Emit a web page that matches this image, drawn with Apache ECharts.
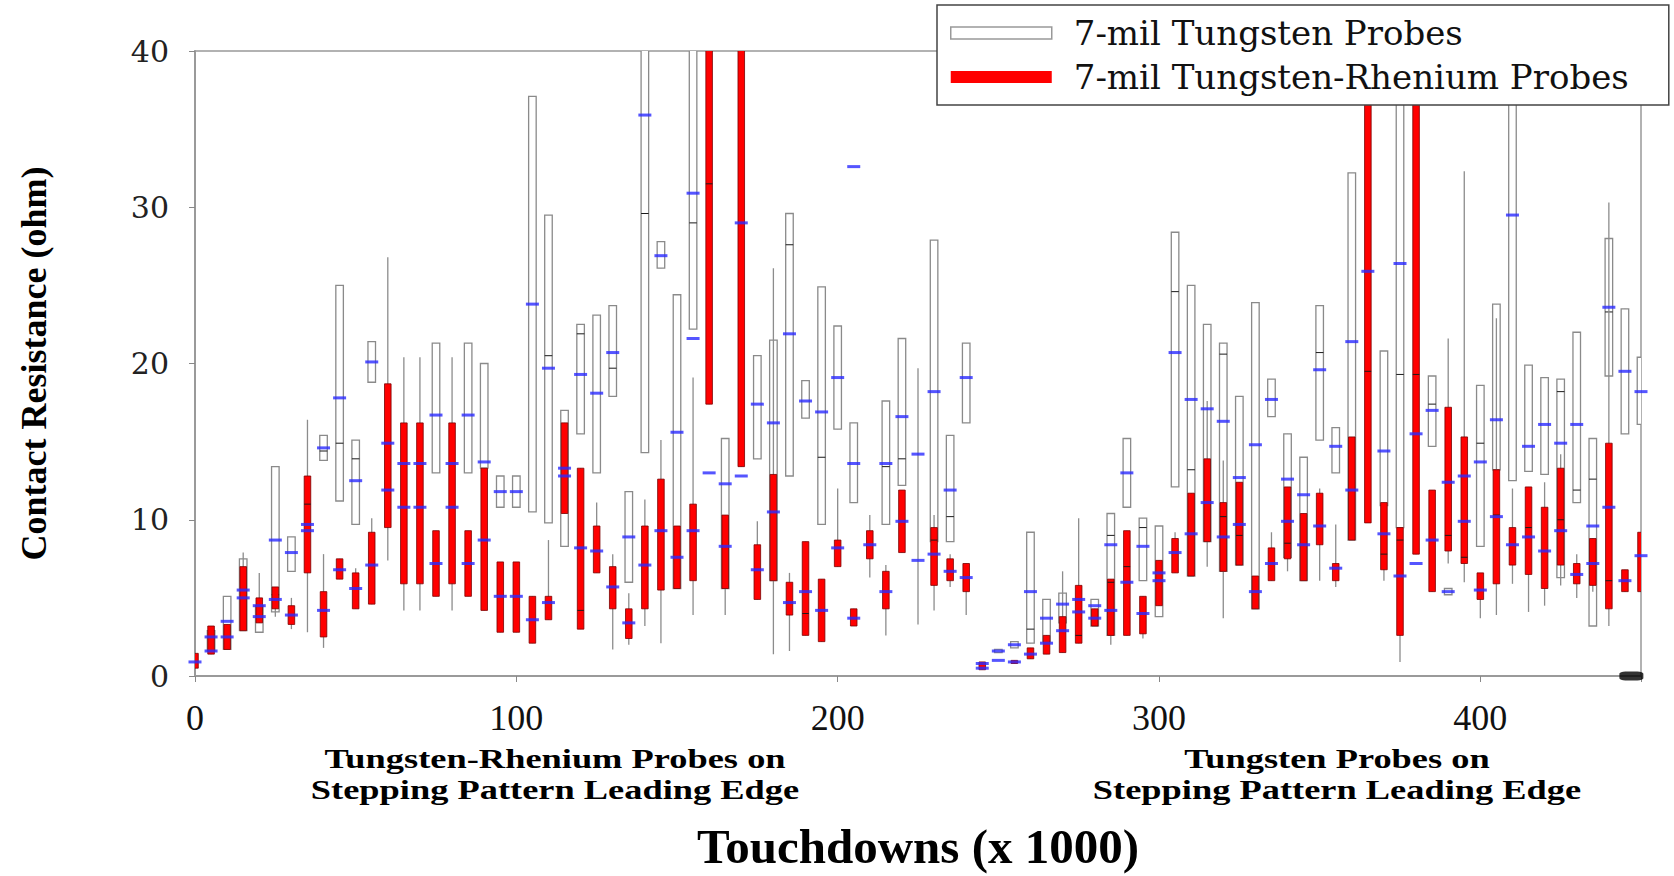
<!DOCTYPE html>
<html>
<head>
<meta charset="utf-8">
<script src="https://cdn.jsdelivr.net/npm/echarts@6/dist/echarts.min.js"></script>
<style>
html, body { margin: 0; padding: 0; background: #fff; }
#chart { width: 1674px; height: 876px; }
</style>
</head>
<body>
<div id="chart"></div>
<script>
// box rows: [touchdowns, whiskerLow, q1, median, q3, whiskerHigh]  (median null = not drawn)
var tungstenBoxes = [
    [5, 1.6, 1.6, null, 2.9, 2.9], [10, 1.7, 1.7, null, 5.1, 5.1], [15, 2.9, 2.9, null, 7.5, 7.5],
    [20, 2.8, 2.8, null, 4.5, 4.5], [25, 4.1, 4.1, 5.2, 13.4, 13.4], [30, 6.7, 6.7, null, 8.9, 8.9],
    [40, 13.8, 13.8, 14.4, 15.4, 15.4], [45, 11.2, 11.2, 14.9, 25.0, 25.0], [50, 9.7, 9.7, 13.9, 15.1, 15.1],
    [55, 18.8, 18.8, null, 21.4, 21.4], [75, 13.0, 13.0, null, 21.3, 21.3], [85, 13.0, 13.0, null, 21.3, 21.3],
    [90, 13.3, 13.3, null, 20.0, 20.0], [95, 10.8, 10.8, null, 12.8, 12.8], [100, 10.8, 10.8, null, 12.8, 12.8],
    [105, 10.5, 10.5, null, 37.1, 37.1], [110, 9.8, 9.8, 20.5, 29.5, 29.5], [115, 8.3, 8.3, null, 17.0, 17.0],
    [120, 15.5, 15.5, 21.9, 22.5, 22.5], [125, 13.0, 13.0, null, 23.1, 23.1], [130, 17.9, 17.9, 19.7, 23.7, 23.7],
    [135, 6.0, 6.0, null, 11.8, 11.8], [140, 14.3, 14.3, 29.6, 45, 45], [145, 26.1, 26.1, null, 27.8, 27.8],
    [150, 5.6, 5.6, null, 24.4, 24.4], [155, 22.2, 22.2, 29.0, 45, 45], [165, 5.6, 5.6, null, 15.2, 15.2],
    [175, 13.9, 13.9, null, 20.5, 20.5], [180, 6.1, 6.1, null, 21.5, 21.5], [185, 12.8, 12.8, 27.6, 29.6, 29.6],
    [190, 16.5, 16.5, null, 18.9, 18.9], [195, 9.7, 9.7, 14.0, 24.9, 24.9], [200, 15.8, 15.8, null, 22.4, 22.4],
    [205, 11.1, 11.1, null, 16.2, 16.2], [215, 9.7, 9.7, 13.4, 17.6, 17.6], [220, 12.2, 12.2, 13.9, 21.6, 21.6],
    [225, 3.3, 7.4, null, 7.4, 19.7], [230, 8.6, 8.6, null, 27.9, 27.9], [235, 8.6, 8.6, 10.2, 15.4, 15.4],
    [240, 16.2, 16.2, null, 21.3, 21.3], [250, 1.5, 1.5, null, 1.7, 1.7], [255, 1.8, 1.8, null, 2.2, 2.2],
    [260, 2.1, 2.1, 3.0, 9.2, 9.2], [265, 2.2, 2.2, null, 4.9, 4.9], [270, 3.4, 3.4, null, 5.3, 5.3],
    [280, 3.2, 3.2, null, 4.9, 4.9], [285, 2.6, 2.6, 9.0, 10.4, 10.4], [290, 10.8, 10.8, null, 15.2, 15.2],
    [295, 6.1, 6.1, 9.5, 10.1, 10.1], [300, 3.8, 3.8, null, 9.6, 9.6], [305, 12.1, 12.1, 24.6, 28.4, 28.4],
    [310, 6.4, 6.4, 13.2, 25.0, 25.0], [315, 8.6, 8.6, null, 22.5, 22.5], [320, 6.7, 6.7, 20.6, 21.3, 21.3],
    [325, 7.1, 7.1, null, 17.9, 17.9], [330, 4.3, 4.3, null, 23.9, 23.9], [335, 16.6, 16.6, null, 19.0, 19.0],
    [340, 7.6, 7.6, null, 15.5, 15.5], [345, 6.1, 6.1, null, 14.0, 14.0], [350, 15.1, 15.1, 20.7, 23.7, 23.7],
    [355, 13.0, 13.0, null, 15.9, 15.9], [360, 8.7, 8.7, null, 32.2, 32.2], [370, 10.9, 10.9, null, 20.8, 20.8],
    [375, 9.5, 9.5, 19.3, 45, 45], [385, 14.7, 14.7, 17.4, 19.2, 19.2], [390, 5.2, 5.2, null, 5.6, 5.6],
    [400, 8.3, 8.3, 14.9, 18.6, 18.6], [405, 13.2, 13.2, null, 23.8, 23.8], [410, 12.5, 12.5, null, 45, 45],
    [415, 13.1, 13.1, null, 19.9, 19.9], [420, 12.9, 12.9, null, 19.1, 19.1], [425, 6.3, 6.3, 18.2, 19.0, 19.0],
    [430, 11.1, 11.1, 11.9, 22.0, 22.0], [435, 3.2, 3.2, 12.6, 15.2, 15.2], [440, 19.2, 19.2, 23.3, 28.0, 28.0],
    [445, 15.5, 15.5, null, 23.5, 23.5], [450, 16.1, 16.1, null, 20.4, 20.4]
];

var rheniumBoxes = [
    [0, 0.5, 0.5, null, 1.45, 1.45], [5, 1.4, 1.4, null, 3.2, 3.2], [10, 1.7, 1.7, null, 3.3, 3.3],
    [15, 2.9, 2.9, null, 7.0, 7.9], [20, 3.4, 3.4, null, 5.0, 6.6], [25, 3.8, 4.3, null, 5.7, 5.7],
    [30, 3.0, 3.3, null, 4.5, 5.0], [35, 2.8, 6.6, 11.0, 12.8, 16.4], [40, 1.8, 2.5, null, 5.4, 7.8],
    [45, 6.2, 6.2, null, 7.5, 7.5], [50, 4.3, 4.3, null, 6.6, 6.9], [55, 4.6, 4.6, null, 9.2, 10.1],
    [60, 7.4, 9.5, null, 18.7, 26.8], [65, 4.2, 5.9, null, 16.2, 20.4], [70, 4.2, 5.9, null, 16.2, 20.4],
    [75, 5.1, 5.1, null, 9.3, 9.3], [80, 4.2, 5.9, null, 16.2, 20.4], [85, 5.1, 5.1, null, 9.3, 9.3],
    [90, 4.2, 4.2, 8.7, 13.3, 13.3], [95, 2.8, 2.8, null, 7.3, 7.3], [100, 2.8, 2.8, null, 7.3, 7.3],
    [105, 2.1, 2.1, null, 5.1, 5.1], [110, 3.6, 3.6, null, 5.1, 8.7], [115, 10.4, 10.4, null, 16.2, 16.2],
    [120, 3.0, 3.0, 4.2, 13.3, 13.3], [125, 6.6, 6.6, null, 9.6, 11.1], [130, 1.7, 4.3, null, 7.0, 7.8],
    [135, 2.0, 2.4, null, 4.3, 5.3], [140, 3.2, 4.3, null, 9.6, 11.3], [145, 2.1, 5.5, null, 12.6, 15.1],
    [150, 5.6, 5.6, null, 9.6, 9.6], [155, 3.9, 6.1, null, 11.0, 19.1], [160, 17.4, 17.4, 31.5, 45, 45],
    [165, 3.9, 5.6, null, 10.3, 10.3], [170, 13.4, 13.4, null, 45, 45], [175, 4.9, 4.9, null, 8.4, 9.9],
    [180, 1.4, 6.1, null, 12.9, 26.1], [185, 1.6, 3.9, null, 6.0, 6.6], [190, 2.6, 2.6, 4.0, 8.6, 8.6],
    [195, 2.2, 2.2, null, 6.2, 6.2], [200, 7.0, 7.0, null, 8.7, 12.0], [205, 3.2, 3.2, null, 4.3, 4.3],
    [210, 6.3, 7.5, null, 9.3, 10.3], [215, 2.6, 4.3, null, 6.7, 7.1], [220, 7.9, 7.9, null, 11.9, 11.9],
    [230, 4.2, 5.8, 8.7, 9.5, 10.3], [235, 5.7, 6.1, null, 7.5, 7.8], [240, 3.9, 5.4, null, 7.2, 7.2],
    [245, 0.4, 0.4, null, 0.9, 0.9], [255, 0.8, 0.8, null, 1.0, 1.0], [260, 1.1, 1.1, null, 1.8, 1.8],
    [265, 1.4, 1.4, null, 2.6, 2.6], [270, 1.5, 1.5, null, 3.8, 6.7], [275, 2.1, 2.1, 2.6, 5.8, 10.1],
    [280, 3.2, 3.2, null, 4.3, 4.3], [285, 2.0, 2.6, 6.0, 6.2, 6.2], [290, 2.6, 2.6, 7.0, 9.3, 9.3],
    [295, 2.4, 2.7, null, 5.1, 5.1], [300, 4.5, 4.5, null, 7.4, 7.4], [305, 6.6, 6.6, null, 8.8, 9.2],
    [310, 6.4, 6.4, null, 11.7, 11.7], [315, 7.0, 8.6, null, 13.9, 17.6], [320, 3.7, 6.7, 10.2, 11.1, 13.8],
    [325, 7.1, 7.1, 9.0, 12.4, 12.4], [330, 4.3, 4.3, null, 6.4, 6.4], [335, 6.1, 6.1, null, 8.2, 9.2],
    [340, 6.7, 7.5, 8.5, 12.1, 12.1], [345, 6.1, 6.1, null, 10.4, 10.4], [350, 6.1, 8.4, null, 11.7, 12.0],
    [355, 5.7, 6.1, null, 7.2, 9.7], [360, 8.7, 8.7, null, 15.3, 15.3], [365, 9.8, 9.8, 19.5, 45, 45],
    [370, 6.1, 6.8, 7.8, 11.1, 11.1], [375, 0.9, 2.6, 8.7, 9.5, 9.5], [380, 7.8, 7.8, 19.3, 45, 45],
    [385, 5.4, 5.4, null, 11.9, 11.9], [390, 7.2, 8.0, 9.0, 17.2, 21.6], [395, 6.0, 7.2, 7.6, 15.3, 32.3],
    [400, 3.7, 4.9, null, 6.6, 6.6], [405, 3.9, 5.9, 10.3, 13.2, 22.9], [410, 5.9, 7.1, null, 9.5, 12.0],
    [415, 4.1, 6.5, 9.5, 12.1, 12.1], [420, 4.5, 5.6, null, 10.8, 12.4], [425, 5.8, 7.1, 10.0, 13.3, 14.2],
    [430, 5.0, 5.9, null, 7.2, 7.8], [435, 5.4, 5.8, null, 8.8, 8.8], [440, 3.2, 4.3, 6.1, 14.9, 30.3],
    [445, 5.4, 5.4, null, 6.8, 6.8], [450, 5.4, 5.4, null, 9.2, 9.2]
];

// blue mean marks: [touchdowns, value]
var meanMarks = [
    [0, 0.9], [5, 2.5], [5, 1.6], [10, 3.5], [10, 2.5], [15, 5.5], [15, 5.0], [20, 4.5], [20, 3.8],
    [25, 8.7], [25, 4.9], [30, 7.9], [30, 3.9], [35, 9.7], [35, 9.3], [40, 14.6], [40, 4.2],
    [45, 17.8], [45, 6.8], [50, 12.5], [50, 5.6], [55, 20.1], [55, 7.1], [60, 14.9], [60, 11.9],
    [65, 13.6], [65, 10.8], [70, 13.6], [70, 10.8], [75, 16.7], [75, 7.2], [80, 13.6], [80, 10.8],
    [85, 16.7], [85, 7.2], [90, 13.7], [90, 8.7], [95, 11.8], [95, 5.1], [100, 11.8], [100, 5.1],
    [105, 23.8], [105, 3.6], [110, 19.7], [110, 4.7], [115, 13.3], [115, 12.8], [120, 19.3], [120, 8.2],
    [125, 18.1], [125, 8.0], [130, 20.7], [130, 5.7], [135, 8.9], [135, 3.4], [140, 35.9], [140, 7.1],
    [145, 26.9], [145, 9.3], [150, 15.6], [150, 7.6], [155, 30.9], [155, 21.6], [155, 9.3], [160, 13.0],
    [165, 12.3], [165, 8.3], [170, 29.0], [170, 12.8], [175, 17.4], [175, 6.8], [180, 16.2], [180, 10.5],
    [185, 21.9], [185, 4.7], [190, 17.6], [190, 5.4], [195, 16.9], [195, 4.2], [200, 19.1], [200, 8.2],
    [205, 32.6], [205, 13.6], [205, 3.7], [210, 8.4], [215, 13.6], [215, 5.4], [220, 16.6], [220, 9.9],
    [225, 14.2], [225, 7.4], [230, 18.2], [230, 7.8], [235, 11.9], [235, 6.7], [240, 19.1], [240, 6.3],
    [245, 0.8], [245, 0.5], [250, 1.6], [250, 1.0], [255, 2.0], [255, 0.9], [260, 5.4], [260, 1.4],
    [265, 3.7], [265, 2.1], [270, 4.6], [270, 2.9], [275, 4.9], [275, 4.1], [280, 4.5], [280, 3.7],
    [285, 8.4], [285, 4.2], [290, 13.0], [290, 6.0], [295, 8.3], [295, 4.0], [300, 6.6], [300, 6.1],
    [305, 20.7], [305, 7.9], [310, 17.7], [310, 9.1], [315, 17.1], [315, 11.1], [320, 16.3], [320, 8.9],
    [325, 12.7], [325, 9.7], [330, 14.8], [330, 5.4], [335, 17.7], [335, 7.2], [340, 12.6], [340, 9.9],
    [345, 11.6], [345, 8.4], [350, 19.6], [350, 9.6], [355, 14.7], [355, 6.9], [360, 21.4], [360, 11.9],
    [365, 25.9], [370, 14.4], [370, 9.1], [375, 26.4], [375, 6.4], [380, 15.5], [380, 7.2],
    [385, 17.0], [385, 8.7], [390, 5.4], [390, 12.4], [395, 12.8], [395, 9.9], [400, 13.7], [400, 5.5],
    [405, 16.4], [405, 10.2], [410, 29.5], [410, 8.4], [415, 14.7], [415, 8.9], [420, 16.1], [420, 8.0],
    [425, 14.9], [425, 9.3], [430, 16.1], [430, 6.5], [435, 9.6], [435, 7.2], [440, 23.6], [440, 10.8],
    [445, 19.5], [445, 6.1], [450, 18.2], [450, 7.7]
];

var endMarker = [[447, 0]];

var seriesNames = ['7-mil Tungsten Probes', '7-mil Tungsten-Rhenium Probes'];
var groupNotes = [
    { lines: ['Tungsten-Rhenium Probes on', 'Stepping Pattern Leading Edge'], x: 555 },
    { lines: ['Tungsten Probes on', 'Stepping Pattern Leading Edge'], x: 1337 }
];

function boxRenderer(widthRatio, fill, stroke, strokeWidth) {
    return function (params, api) {
        var x = api.value(0);
        var lo = api.coord([x, api.value(1)]);
        var q1 = api.coord([x, api.value(2)]);
        var med = api.value(3);
        var q3 = api.coord([x, api.value(4)]);
        var hi = api.coord([x, api.value(5)]);
        var w = api.size([5, 0])[0] * widthRatio;
        var children = [{
            type: 'line',
            shape: { x1: lo[0], y1: lo[1], x2: hi[0], y2: hi[1] },
            style: { stroke: '#8c8c8c', lineWidth: 1.3 }
        }];
        if (q1[1] - q3[1] > 0.5) {
            children.push({
                type: 'rect',
                shape: { x: q3[0] - w / 2, y: q3[1], width: w, height: q1[1] - q3[1] },
                style: { fill: fill, stroke: stroke, lineWidth: strokeWidth }
            });
        }
        if (med != null && !isNaN(med)) {
            var m = api.coord([x, med]);
            children.push({
                type: 'line',
                shape: { x1: m[0] - w / 2, y1: m[1], x2: m[0] + w / 2, y2: m[1] },
                style: { stroke: '#1a1a1a', lineWidth: 1 }
            });
        }
        return { type: 'group', children: children };
    };
}

// notes under the axis, one text per line
var noteTexts = [];
groupNotes.forEach(function (n) {
    n.lines.forEach(function (line, i) {
        noteTexts.push({
            type: 'text',
            x: n.x, y: 745 + i * 31,
            scaleX: 1.3,
            style: {
                text: line,
                textAlign: 'center',
                textVerticalAlign: 'top',
                font: 'bold 28px "Liberation Serif"',
                fill: '#000'
            }
        });
    });
});

var chart = echarts.init(document.getElementById('chart'), null, { renderer: 'svg' });
var option = {
    animation: false,
    backgroundColor: '#fff',
    grid: {
        left: 195, right: 33, top: 51, bottom: 193,
        show: true, borderColor: '#999', borderWidth: 1.5, backgroundColor: 'transparent'
    },
    legend: {
        orient: 'vertical',
        left: 937, top: 5,
        z: 10,
        selectedMode: false,
        backgroundColor: '#fff',
        borderColor: '#444',
        borderWidth: 1.5,
        padding: [11, 40, 11, 13],
        itemWidth: 101,
        itemHeight: 12,
        itemGap: 10,
        textStyle: { fontFamily: 'DejaVu Serif', fontSize: 34, color: '#111', padding: [0, 0, 0, 17] },
        data: [
            { name: seriesNames[0], icon: 'rect', itemStyle: { color: '#fff', borderColor: '#999', borderWidth: 1.5 } },
            { name: seriesNames[1], icon: 'rect', itemStyle: { color: '#ff0000', borderWidth: 0 } }
        ]
    },
    xAxis: {
        type: 'value',
        min: 0, max: 450, interval: 100,
        name: 'Touchdowns (x 1000)',
        nameLocation: 'middle',
        nameGap: 146,
        nameTextStyle: { fontFamily: 'Liberation Serif', fontWeight: 'bold', fontSize: 49, color: '#000' },
        axisLine: { lineStyle: { color: '#9a9a9a', width: 2 } },
        axisTick: { length: 6, lineStyle: { color: '#888' } },
        axisLabel: {
            margin: 24,
            fontFamily: 'Liberation Serif', fontSize: 36, color: '#111',
            formatter: function (v) { return v % 100 === 0 ? String(v) : ''; }
        },
        splitLine: { show: false }
    },
    yAxis: {
        type: 'value',
        min: 0, max: 40, interval: 10,
        name: 'Contact Resistance (ohm)',
        nameLocation: 'middle',
        nameGap: 143,
        nameTextStyle: { fontFamily: 'Liberation Serif', fontWeight: 'bold', fontSize: 36, color: '#000' },
        axisLine: { show: true, lineStyle: { color: '#9a9a9a', width: 2 } },
        axisTick: { show: true, length: 6, lineStyle: { color: '#888' } },
        axisLabel: { margin: 26, fontFamily: 'DejaVu Serif', fontSize: 30, color: '#222' },
        splitLine: { show: false }
    },
    graphic: noteTexts,
    series: [{
        name: seriesNames[0],
        type: 'custom',
        z: 2,
        clip: true,
        itemStyle: { color: '#fff', borderColor: '#999' },
        encode: { x: 0, y: [1, 2, 3, 4, 5] },
        renderItem: boxRenderer(0.47, '#fff', '#8a8a8a', 1.3),
        data: tungstenBoxes
    }, {
        name: seriesNames[1],
        type: 'custom',
        z: 3,
        clip: true,
        itemStyle: { color: '#ff0000' },
        encode: { x: 0, y: [1, 2, 3, 4, 5] },
        renderItem: boxRenderer(0.41, '#ff0000', '#7a0000', 0.8),
        data: rheniumBoxes
    }, {
        name: 'mean',
        type: 'scatter',
        z: 4,
        symbol: 'rect',
        symbolSize: [13, 3],
        itemStyle: { color: '#2b2bff' },
        data: meanMarks
    }, {
        name: 'end',
        type: 'scatter',
        z: 4,
        clip: false,
        symbol: 'roundRect',
        symbolSize: [24, 9],
        itemStyle: { color: '#000' },
        data: endMarker
    }]
};
chart.setOption(option);
window.addEventListener('resize', function () {
    chart.resize();
});
</script>
</body>
</html>
